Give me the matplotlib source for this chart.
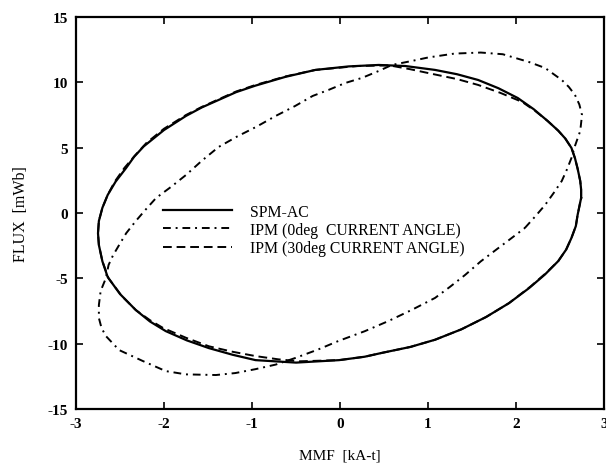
import matplotlib
matplotlib.use("Agg")
import matplotlib.pyplot as plt

# SPM-AC (solid) loop
spm_x = [2.74, 2.74, 2.73, 2.70, 2.67, 2.63, 2.56, 2.48, 2.36, 2.20, 2.02, 1.80, 1.57, 1.33,
         1.08, 0.74, 0.44, 0.10, -0.28, -0.62, -0.96, -1.18, -1.38, -1.57, -1.75, -2.00,
         -2.23, -2.34, -2.43, -2.55, -2.64, -2.70, -2.74, -2.75, -2.74, -2.70, -2.64, -2.50,
         -2.32, -2.16, -1.98, -1.74, -1.49, -1.22, -0.96, -0.50, -0.01, 0.28, 0.48, 0.80,
         1.08, 1.38, 1.66, 1.92, 2.15, 2.33, 2.48, 2.57, 2.63, 2.68, 2.70, 2.74]
spm_y = [1.15, 1.80, 2.45, 3.40, 4.20, 4.98, 5.70, 6.30, 7.04, 7.95, 8.80, 9.55, 10.18, 10.62,
         10.95, 11.25, 11.33, 11.22, 10.95, 10.42, 9.75, 9.25, 8.65, 8.08, 7.43, 6.35,
         5.10, 4.30, 3.45, 2.40, 1.38, 0.40, -0.61, -1.55, -2.45, -3.70, -4.90, -6.20,
         -7.43, -8.30, -9.04, -9.75, -10.34, -10.85, -11.26, -11.45, -11.26, -11.00, -10.70, -10.25,
         -9.70, -8.90, -7.96, -6.90, -5.74, -4.70, -3.68, -2.80, -1.91, -1.00, -0.15, 1.15]

# IPM (0deg current angle) loop (dash-dot)
ipm0_x = [2.10, 2.22, 2.33, 2.43, 2.52, 2.58, 2.63, 2.67, 2.73, 2.75, 2.72, 2.67, 2.60, 2.52,
          2.33, 2.15, 1.99, 1.85, 1.60, 1.30, 1.00, 0.82, 0.59, 0.44, 0.25, 0.06, -0.13,
          -0.31, -0.51, -0.73, -0.95, -1.17, -1.38, -1.57, -1.75, -1.92, -2.09, -2.21, -2.32,
          -2.43, -2.51, -2.58, -2.63, -2.66, -2.72, -2.74, -2.74, -2.71, -2.66, -2.51, -2.24,
          -1.98, -1.75, -1.41, -1.19, -0.96, -0.73, -0.51, -0.25, -0.02, 0.28, 0.55, 0.82,
          1.08, 1.25, 1.42, 1.60, 1.80, 1.92, 2.10]
ipm0_y = [-1.15, -0.25, 0.61, 1.55, 2.45, 3.35, 4.21, 5.13, 6.28, 7.50, 8.30, 9.04, 9.65, 10.18,
          11.10, 11.55, 11.87, 12.15, 12.28, 12.20, 11.90, 11.64, 11.33, 10.87, 10.34, 9.95, 9.42,
          8.96, 8.19, 7.43, 6.60, 5.85, 5.05, 4.00, 2.91, 2.00, 1.15, 0.25, -0.61,
          -1.55, -2.45, -3.25, -3.98, -4.98, -5.97, -7.04, -8.04, -8.80, -9.42, -10.49, -11.33,
          -12.10, -12.35, -12.40, -12.25, -11.95, -11.60, -11.10, -10.45, -9.80, -9.05, -8.27, -7.40,
          -6.50, -5.65, -4.75, -3.70, -2.68, -2.07, -1.15]

# IPM (30deg current angle) loop (dashed)
ipm30_x = [2.74, 2.74, 2.73, 2.70, 2.67, 2.63, 2.56, 2.48, 2.36, 2.22, 2.07, 1.82, 1.57, 1.33,
           1.08, 0.80, 0.56, 0.20, -0.28, -0.62, -0.96, -1.18, -1.38, -1.57, -1.75, -2.00,
           -2.20, -2.33, -2.45, -2.56, -2.64, -2.70, -2.74, -2.75, -2.74, -2.70, -2.63, -2.48,
           -2.32, -2.16, -2.01, -1.75, -1.49, -1.22, -0.96, -0.70, -0.46, -0.01, 0.28, 0.48, 0.80,
           1.08, 1.38, 1.66, 1.92, 2.17, 2.34, 2.48, 2.57, 2.63, 2.68, 2.70, 2.74]
ipm30_y = [1.15, 1.80, 2.45, 3.40, 4.20, 4.98, 5.70, 6.30, 7.04, 7.80, 8.50, 9.20, 9.80, 10.25,
           10.60, 11.00, 11.30, 11.25, 10.95, 10.45, 9.80, 9.30, 8.70, 8.12, 7.50, 6.45,
           5.36, 4.40, 3.45, 2.40, 1.38, 0.40, -0.61, -1.55, -2.45, -3.70, -5.00, -6.35,
           -7.43, -8.20, -8.80, -9.55, -10.20, -10.62, -10.95, -11.20, -11.35, -11.26, -11.00, -10.70, -10.25,
           -9.70, -8.90, -7.96, -6.90, -5.60, -4.60, -3.68, -2.80, -1.91, -1.00, -0.15, 1.15]

labels = ["SPM-AC", "IPM (0deg  CURRENT ANGLE)", "IPM (30deg CURRENT ANGLE)"]
xticks = [-3, -2, -1, 0, 1, 2, 3]
yticks = [-15, -10, -5, 0, 5, 10, 15]

plt.rcParams['font.family'] = ['Liberation Serif', 'DejaVu Serif']

fig = plt.figure(figsize=(6.06, 4.64), dpi=100)
ax = fig.add_axes([76/606, 54/464, 528/606, 392/464])

ax.plot(spm_x, spm_y, color='black', lw=1.6, ls='-', label=labels[0])
ax.plot(ipm0_x, ipm0_y, color='black', lw=1.4, ls=(0, (4, 2.5, 1, 2.5)), label=labels[1])
ax.plot(ipm30_x, ipm30_y, color='black', lw=1.4, ls=(0, (4.5, 2.5)), label=labels[2])

ax.set_xlim(-3, 3)
ax.set_ylim(-15, 15)
ax.set_xticks(xticks)
ax.set_yticks(yticks)
ax.set_xticklabels([str(t) for t in xticks], fontsize=11, fontweight='bold')
ax.set_yticklabels([str(t) for t in yticks], fontsize=11, fontweight='bold')
ax.tick_params(direction='in', top=True, right=True, length=5, width=1.2, pad=6)
for s in ax.spines.values():
    s.set_linewidth(1.6)

ax.set_xlabel("MMF  [kA-t]", fontsize=11, labelpad=13)
ax.set_ylabel("FLUX  [mWb]", fontsize=11.5, labelpad=13)

leg = ax.legend(loc='center left', bbox_to_anchor=((163-76)/528, 0.457), frameon=False,
                fontsize=11.3, handlelength=4.4, handletextpad=1.15, labelspacing=0.15,
                borderpad=0, borderaxespad=0)

fig.savefig("out.png", dpi=100)
